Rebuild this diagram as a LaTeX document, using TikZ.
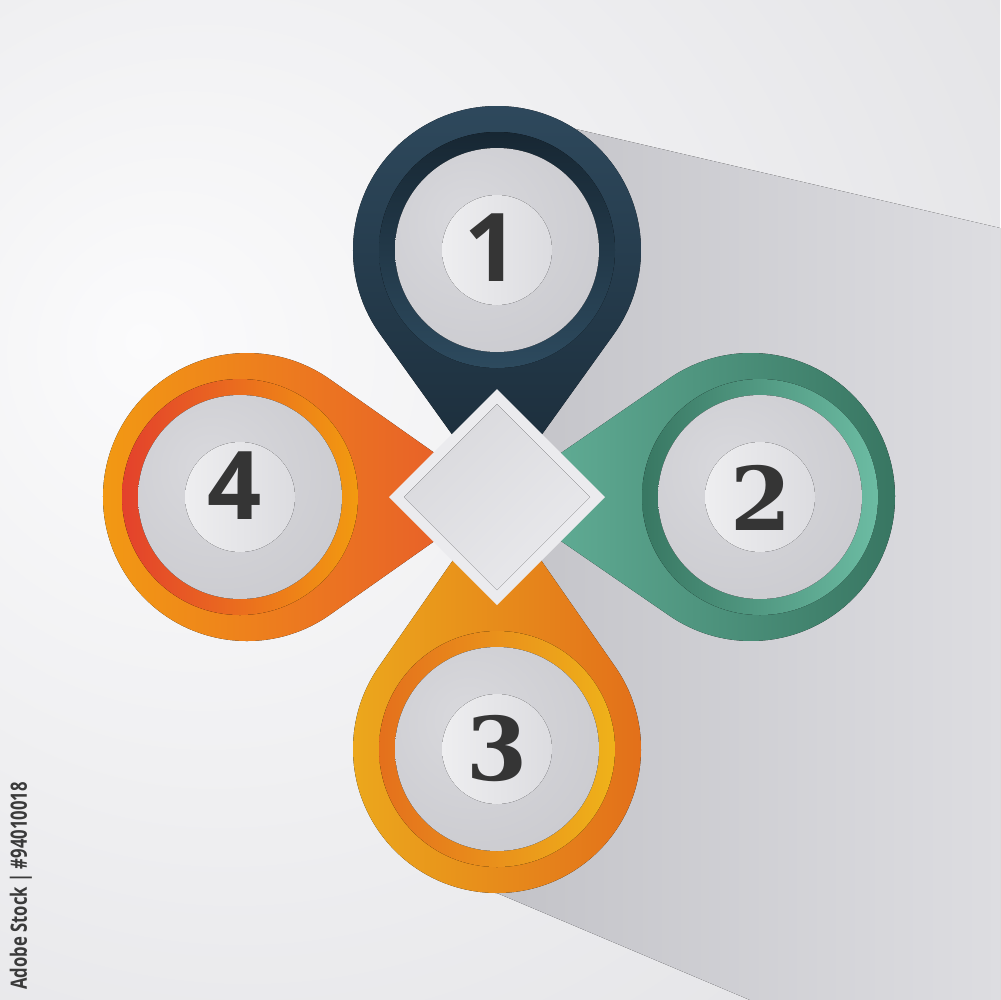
\documentclass[tikz,border=0pt]{standalone}
\usepackage{fontspec}
\newfontfamily\numsans{Open Sans}
\newfontfamily\numserif{DejaVu Serif}
\newfontfamily\wmfont{Open Sans}
\usetikzlibrary{calc}
\definecolor{bgin}{HTML}{FBFBFC}
\definecolor{bgout}{HTML}{D7D7DB}
\definecolor{shA}{HTML}{C3C3C8}
\definecolor{shB}{HTML}{DDDDE1}
\definecolor{navyA}{HTML}{2F4A5E}
\definecolor{navyB}{HTML}{1A2B38}
\definecolor{navyR1}{HTML}{172733}
\definecolor{navyR2}{HTML}{2D4A5E}
\definecolor{grnA}{HTML}{66B49C}
\definecolor{grnB}{HTML}{36735F}
\definecolor{grnR1}{HTML}{387762}
\definecolor{grnR2}{HTML}{6CBCA3}
\definecolor{orgA}{HTML}{F39C12}
\definecolor{orgB}{HTML}{E6582C}
\definecolor{orgR1}{HTML}{E3412C}
\definecolor{orgR2}{HTML}{F29A10}
\definecolor{ylwA}{HTML}{ECA91C}
\definecolor{ylwB}{HTML}{E26C1A}
\definecolor{ylwR1}{HTML}{E4701C}
\definecolor{ylwR2}{HTML}{EFB21A}
\definecolor{discA}{HTML}{D9D9DD}
\definecolor{discB}{HTML}{C4C4C9}
\definecolor{inA}{HTML}{EEEEF0}
\definecolor{inB}{HTML}{DCDCE0}
\definecolor{rim}{HTML}{EBEBEE}
\definecolor{diaA}{HTML}{E9E9EC}
\definecolor{diaB}{HTML}{D9D9DD}
\definecolor{digit}{HTML}{353535}
\definecolor{wmtext}{HTML}{3A3A3A}
\pgfdeclareradialshading{bgshade}{\pgfpoint{-18bp}{8bp}}{color(0bp)=(bgin); color(65bp)=(bgout); color(100bp)=(bgout)}
\pgfdeclareradialshading{discshade}{\pgfpoint{-8bp}{8bp}}{color(0bp)=(discA); color(50bp)=(discB); color(70bp)=(discB)}
\newcommand\mypin[8]{%
  \pgfmathsetmacro\pb{acos(144/#4)}%
  \pgfmathsetmacro\pa{#3+\pb}%
  \pgfmathsetmacro\pe{#3-\pb+360}%
  \fill[#7] (497,497) -- ($(#1,#2)+(\pa:144)$) arc[start angle=\pa, end angle=\pe, radius=144] -- cycle;
  \fill[#8] (#5,#6) circle[radius=118];
  \fill[graydisc] (#5,#6) circle[radius=102];
  \fill[innerdisc] (#5,#6) circle[radius=55];
}
\begin{document}
\begin{tikzpicture}[x=0.1mm,y=-0.1mm,
  graydisc/.style={shading=discshade},
  innerdisc/.style={left color=inA, right color=inB},
  digitbox/.style={text=digit, inner sep=0pt}]
\useasboundingbox (0,0) rectangle (1000,1000);
\fill[shading=bgshade] (0,0) rectangle (1000,1000);
% long shadow
\fill[left color=shA, right color=shB] (497,497) -- (567,127) -- (1000,228) -- (1000,1000) -- (750,1000) -- (497,893) -- cycle;
% pins
\mypin{497}{250}{90}{247}{497}{250}{top color=navyA, bottom color=navyB}{top color=navyR1, bottom color=navyR2}
\mypin{751}{497}{180}{254}{760}{497}{left color=grnA, right color=grnB}{left color=grnR1, right color=grnR2}
\mypin{497}{749}{270}{252}{497}{749}{left color=ylwA, right color=ylwB}{left color=ylwR1, right color=ylwR2}
\mypin{247}{497}{0}{250}{240}{497}{left color=orgA, right color=orgB}{left color=orgR1, right color=orgR2}
% diamond
\fill[rim] (497,389) -- (605,497) -- (497,605) -- (389,497) -- cycle;
\fill[top color=diaB, bottom color=diaA, shading angle=45] (497,404) -- (590,497) -- (497,590) -- (404,497) -- cycle;
% digits
\node[digitbox] (n1) at (492,248) {\fontsize{27}{27}\selectfont\numsans\bfseries 1};
\node[digitbox] (n2) at (761,498) {\fontsize{25}{25}\selectfont\numserif\bfseries 2};
\node[digitbox] (n3) at (497,749) {\fontsize{25}{25}\selectfont\numserif\bfseries 3};
\node[digitbox] (n4) at (235,486) {\fontsize{27}{27}\selectfont\numsans\bfseries 4};
% side text
\node[rotate=90, text=wmtext, inner sep=0pt] (wm) at (21,886) {\fontsize{6.4}{6.4}\selectfont\wmfont\bfseries\scalebox{0.74}[1]{Adobe Stock | \#94010018}};
\end{tikzpicture}
\end{document}
